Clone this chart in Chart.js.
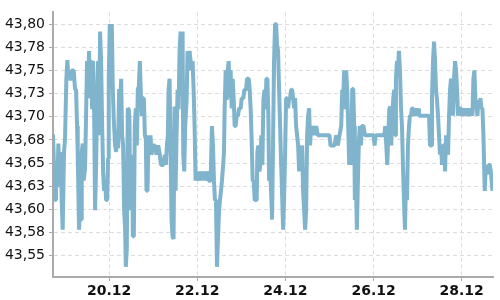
<!DOCTYPE html>
<html>
<head>
<meta charset="utf-8">
<script src="https://cdn.jsdelivr.net/npm/chart.js@4/dist/chart.umd.min.js"></script>
<style>
html,body{margin:0;padding:0;background:#fff;}
#wrap{width:500px;height:300px;}
</style>
</head>
<body>
<div id="wrap"><canvas id="c" width="500" height="300"></canvas></div>
<script>
// Day of December (fractional) for each observation
const days = [
18.728,18.774,18.796,18.827,18.850,18.872,18.903,18.925,18.948,18.978,
19.001,19.031,19.054,19.077,19.100,19.130,19.153,19.198,19.228,19.251,
19.274,19.289,19.319,19.342,19.365,19.380,19.403,19.425,19.456,19.478,
19.501,19.524,19.546,19.569,19.592,19.615,19.637,19.660,19.683,19.706,
19.728,19.751,19.774,19.796,19.819,19.842,19.865,19.887,19.910,19.933,
19.956,19.978,19.993,20.016,20.039,20.062,20.084,20.107,20.137,20.160,
20.183,20.206,20.228,20.251,20.274,20.296,20.319,20.342,20.365,20.380,
20.402,20.425,20.448,20.463,20.478,20.501,20.524,20.539,20.562,20.584,
20.607,20.630,20.652,20.675,20.698,20.721,20.743,20.766,20.789,20.812,
20.834,20.849,20.872,20.895,20.918,20.940,20.963,21.001,21.039,21.077,
21.115,21.152,21.175,21.228,21.266,21.289,21.312,21.334,21.349,21.372,
21.395,21.418,21.440,21.463,21.486,21.509,21.531,21.554,21.577,21.599,
21.622,21.645,21.668,21.683,21.705,21.728,21.759,21.781,21.804,21.827,
21.849,21.872,21.895,21.918,21.940,21.963,21.986,22.009,
22.039,22.061,22.084,22.107,22.130,22.152,22.175,22.198,22.236,22.258,
22.304,22.334,22.357,22.380,22.402,22.425,22.448,22.471,22.493,22.516,
22.539,22.561,22.584,22.607,22.622,22.645,22.668,22.690,22.713,22.736,
22.758,22.781,22.804,22.827,22.849,22.872,22.895,22.925,22.948,22.986,
23.008,23.046,23.069,23.107,23.130,23.168,23.190,23.213,23.236,23.258,
23.281,23.304,23.349,23.364,23.387,23.410,23.433,23.455,23.478,23.501,
23.524,23.546,23.569,23.592,23.614,23.630,23.652,23.675,23.698,
23.720,23.743,23.766,23.789,23.811,23.834,23.857,23.880,23.902,23.925,
23.948,23.970,23.993,24.016,24.039,24.061,24.084,24.107,24.130,24.152,
24.175,24.198,24.220,24.243,24.266,24.289,24.311,24.334,24.357,24.380,
24.402,24.425,24.448,24.470,24.493,24.516,24.539,24.561,24.584,24.607,
24.630,24.660,24.698,24.736,25.001,25.023,25.114,25.152,25.190,25.228,
25.266,25.289,25.311,25.334,
25.357,25.379,25.402,25.425,25.448,25.470,25.493,25.516,25.539,25.561,
25.576,25.599,25.622,25.645,25.667,25.690,25.713,25.736,25.773,25.804,
26.001,26.023,26.046,26.243,26.266,26.289,26.311,26.334,26.357,26.379,
26.402,26.425,26.448,26.470,26.493,26.508,26.531,26.554,26.576,26.599,
26.622,26.645,26.667,26.690,26.713,26.736,26.758,26.781,26.804,26.826,
26.849,26.872,26.895,26.925,26.963,27.001,
27.016,27.031,27.258,27.281,27.304,27.326,27.349,27.372,27.395,27.417,
27.440,27.463,27.485,27.508,27.531,27.554,27.576,27.599,27.622,27.645,
27.667,27.690,27.713,27.735,27.758,27.781,27.804,27.826,27.849,27.872,
27.895,27.917,27.940,27.978,28.016,28.054,28.092,28.129,28.167,28.205,
28.243,28.266,28.288,28.311,28.334,28.357,28.379,28.402,28.425,28.448,
28.470,28.493,28.508,28.523,28.546,28.569,28.591,28.614,28.637,28.660,
28.698
];

// Exchange rate
const rates = [
43.681,43.610,43.652,43.624,43.671,43.631,43.662,43.610,43.578,43.662,
43.676,43.741,43.761,43.741,43.750,43.739,43.750,43.750,43.730,43.729,
43.690,43.659,43.578,43.603,43.589,43.662,43.671,43.631,43.645,43.701,
43.760,43.729,43.771,43.720,43.761,43.708,43.760,43.711,43.599,43.648,
43.708,43.760,43.680,43.792,43.760,43.694,43.641,43.620,43.631,43.610,
43.610,43.655,43.741,43.800,43.778,43.800,43.732,43.697,43.669,43.662,
43.680,43.666,43.730,43.711,43.741,43.680,43.669,43.599,43.578,43.538,
43.557,43.709,43.708,43.697,43.599,43.631,43.659,43.571,43.571,43.690,
43.709,43.669,43.730,43.732,43.760,43.725,43.701,43.720,43.720,43.680,
43.676,43.620,43.620,43.680,43.659,43.680,43.659,43.669,43.669,43.659,
43.669,43.659,43.648,43.648,43.659,43.648,43.669,43.680,43.729,43.741,
43.669,43.589,43.571,43.568,43.711,43.620,43.680,43.729,43.708,43.771,
43.792,43.722,43.792,43.659,43.641,43.690,43.718,43.771,43.750,43.771,
43.760,43.750,43.760,43.729,43.690,43.631,43.641,43.631,
43.641,43.631,43.641,43.631,43.641,43.631,43.641,43.631,43.641,43.631,
43.631,43.690,43.669,43.631,43.610,43.610,43.538,43.568,43.596,43.610,
43.620,43.631,43.645,43.662,43.709,43.750,43.718,43.750,43.760,43.720,
43.750,43.709,43.741,43.720,43.690,43.690,43.701,43.701,43.709,43.709,
43.720,43.720,43.729,43.729,43.741,43.741,43.729,43.708,43.673,43.631,
43.631,43.610,43.610,43.662,43.669,43.641,43.648,43.680,43.648,43.718,
43.729,43.708,43.741,43.741,43.701,43.631,43.645,43.620,43.589,
43.673,43.760,43.800,43.800,43.778,43.771,43.729,43.690,43.652,43.617,
43.578,43.610,43.659,43.720,43.720,43.709,43.720,43.720,43.729,43.729,
43.720,43.709,43.720,43.690,43.680,43.669,43.641,43.662,43.641,43.669,
43.620,43.599,43.578,43.599,43.680,43.701,43.709,43.669,43.690,43.680,
43.690,43.680,43.690,43.680,43.680,43.669,43.669,43.680,43.669,43.680,
43.690,43.729,43.720,43.750,
43.708,43.750,43.729,43.690,43.648,43.669,43.648,43.730,43.730,43.690,
43.610,43.631,43.578,43.631,43.673,43.690,43.669,43.690,43.690,43.680,
43.680,43.669,43.680,43.680,43.690,43.669,43.648,43.680,43.708,43.711,
43.669,43.701,43.720,43.729,43.680,43.741,43.760,43.750,43.771,43.750,
43.711,43.690,43.648,43.610,43.578,43.631,43.610,43.669,43.690,43.701,
43.701,43.709,43.709,43.701,43.709,43.701,
43.709,43.701,43.701,43.669,43.669,43.720,43.760,43.781,43.760,43.729,
43.718,43.701,43.680,43.659,43.669,43.648,43.669,43.669,43.641,43.680,
43.669,43.659,43.701,43.729,43.741,43.729,43.701,43.741,43.760,43.750,
43.729,43.701,43.709,43.709,43.701,43.709,43.701,43.709,43.701,43.709,
43.701,43.741,43.750,43.718,43.711,43.701,43.718,43.709,43.720,43.709,
43.709,43.680,43.648,43.620,43.648,43.638,43.641,43.648,43.648,43.641,
43.620
];

const xTickDays = [20, 22, 24, 26, 28];
const xTickLabels = ['20.12', '22.12', '24.12', '26.12', '28.12'];
const yTickValues = [43.55, 43.575, 43.60, 43.625, 43.65, 43.675, 43.70, 43.725, 43.75, 43.775, 43.80];
const yTickLabels = ['43,55', '43,58', '43,60', '43,63', '43,65', '43,68', '43,70', '43,73', '43,75', '43,78', '43,80'];

const points = days.map((d, i) => ({ x: d, y: rates[i] }));

new Chart(document.getElementById('c'), {
  type: 'line',
  data: {
    datasets: [{
      data: points,
      borderColor: '#7fb4cc',
      borderWidth: 4,
      borderJoinStyle: 'bevel',
      pointRadius: 0,
      tension: 0,
      fill: false
    }]
  },
  options: {
    responsive: false,
    animation: false,
    devicePixelRatio: 1,
    layout: { padding: { top: 5, right: 7, left: 0, bottom: 0 } },
    plugins: { legend: { display: false }, tooltip: { enabled: false } },
    scales: {
      x: {
        type: 'linear',
        min: 18.728,
        max: 28.71,
        afterBuildTicks: s => { s.ticks = xTickDays.map(v => ({ value: v })); },
        afterFit: s => { s.height = 23; },
        ticks: {
          autoSkip: false,
          maxRotation: 0,
          padding: 2,
          color: '#111',
          font: { family: 'DejaVu Sans', size: 14, weight: 'bold' },
          callback: (v, i) => xTickLabels[i]
        },
        grid: { color: '#dddddd', lineWidth: 1, tickLength: 4, tickColor: '#aaaaaa', tickBorderDash: [] },
        border: { display: true, color: '#aaaaaa', width: 2, dash: [4, 3] }
      },
      y: {
        type: 'linear',
        min: 43.527,
        max: 43.8126,
        afterBuildTicks: s => { s.ticks = yTickValues.map(v => ({ value: v })); },
        afterFit: s => { s.width = 53; },
        ticks: {
          autoSkip: false,
          padding: 4,
          color: '#111',
          font: { family: 'DejaVu Sans', size: 14 },
          callback: (v, i) => yTickLabels[i]
        },
        grid: { color: '#dddddd', lineWidth: 1, tickLength: 4, tickColor: '#aaaaaa', tickBorderDash: [] },
        border: { display: true, color: '#aaaaaa', width: 2, dash: [4, 3] }
      }
    }
  }
});
</script>
</body>
</html>
